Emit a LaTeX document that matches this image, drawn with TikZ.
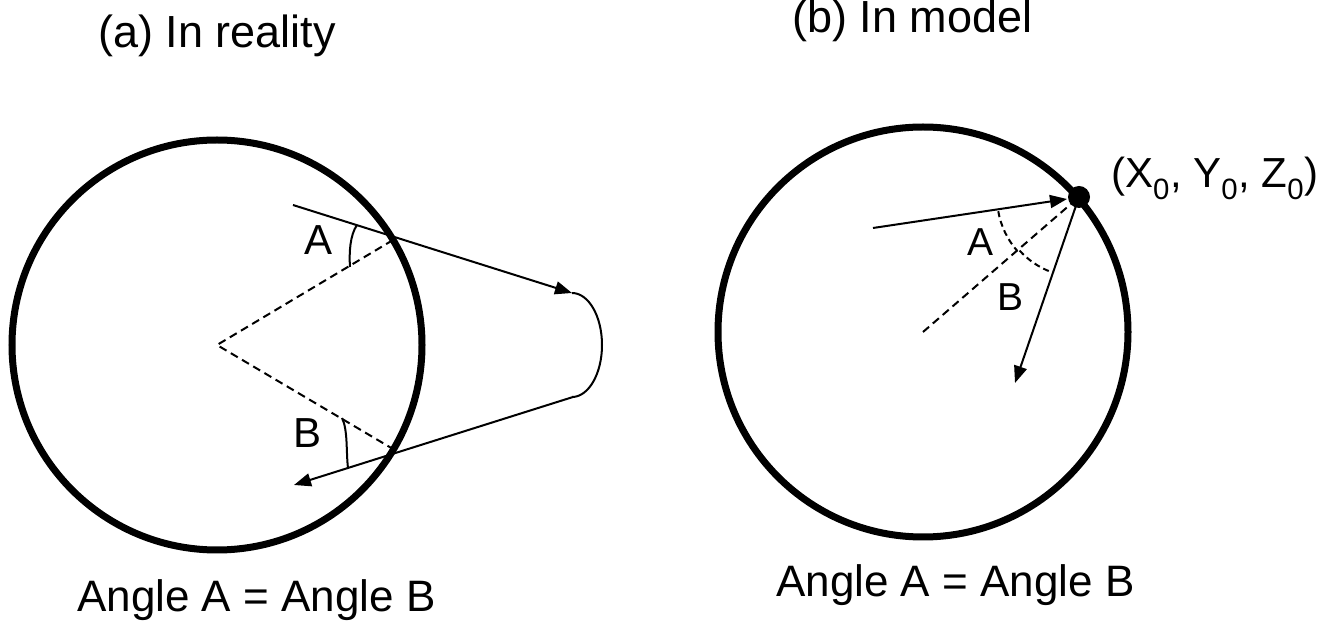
\documentclass[tikz,border=0pt]{standalone}
\usepackage{fontspec}
\setmainfont{Liberation Sans}
\usetikzlibrary{arrows.meta}
\begin{document}
\begin{tikzpicture}[x=1pt,y=1pt,
  ring/.style={line width=7pt},
  ray/.style={line width=2pt,-{Triangle[length=17pt,width=13pt]}},
  thin/.style={line width=2pt},
  dsh/.style={line width=2pt,dash pattern=on 8pt off 5pt},
  title/.style={font=\fontsize{45}{54}\selectfont,anchor=base west,inner sep=0pt},
  lbl/.style={font=\fontsize{42}{50}\selectfont,inner sep=0pt},
  slbl/.style={font=\fontsize{39}{46}\selectfont,inner sep=0pt}]
\useasboundingbox (0,0) rectangle (1342,624);
% ---------- (a) ----------
\coordinate (cA) at (217,279);
\draw[ring] (cA) circle[radius=205];
\coordinate (inS) at (293,419);
\coordinate (inT) at (572,331);
\coordinate (outS) at (573,227);
\coordinate (outT) at (294,139);
\coordinate (hitU) at (393,384);
\coordinate (hitL) at (393,175);
\draw[ray] (inS) -- (inT);
\draw[thin] (inT) arc[start angle=90,end angle=-90,x radius=30,y radius=52];
\draw[ray] (outS) -- (outT);
\draw[dsh] (hitU) -- (cA) -- (hitL);
\draw[thin] (357,399) .. controls (350,389) and (349,371) .. (350,357);
\draw[thin] (342,206) .. controls (348,194) and (346,172) .. (348,156);
\node[lbl] (la) at (319,384) {A};
\node[lbl] (lb) at (308,191) {B};
\node[title] (ta) at (98,576) {(a) In reality};
\node[title,font=\fontsize{44}{52}\selectfont] (ea) at (77,12) {Angle A = Angle B};
% ---------- (b) ----------
\coordinate (cB) at (923,292);
\draw[ring] (cB) circle[radius=205];
\coordinate (P) at (1079,427);
\coordinate (inS2) at (873,396);
\coordinate (inT2) at (1067,425);
\coordinate (outT2) at (1015,241);
\draw[ray] (inS2) -- (inT2);
\draw[ray] (P) -- (outT2);
\draw[dsh] (cB) -- (P);
\draw[dsh,dash pattern=on 6pt off 4pt] ([shift={(190:82)}]P) arc[start angle=190,end angle=221,radius=82];
\draw[dsh,dash pattern=on 6pt off 4pt] ([shift={(222:80)}]P) arc[start angle=222,end angle=249,radius=80];
\fill (P) circle[radius=11];
\node[slbl] (ra) at (980,382) {A};
\node[slbl] (rb) at (1010,327) {B};
\node[title] (tb) at (792,591) {(b) In model};
\node[title,font=\fontsize{42}{50}\selectfont] (pt) at (1111,436) {(X\textsubscript{0}, Y\textsubscript{0}, Z\textsubscript{0})};
\node[title,font=\fontsize{44}{52}\selectfont] (eb) at (776,27) {Angle A = Angle B};
\end{tikzpicture}
\end{document}
